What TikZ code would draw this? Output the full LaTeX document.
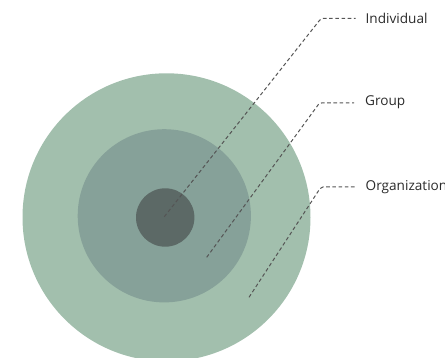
\documentclass[tikz,border=0pt]{standalone}
\usepackage{fontspec}
\setmainfont{Open Sans}
\definecolor{outerc}{HTML}{A2BFAD}
\definecolor{midc}{HTML}{86A199}
\definecolor{innerc}{HTML}{5C6966}
\definecolor{leadc}{HTML}{555555}
\definecolor{txtc}{HTML}{2A2A2A}
\tikzset{
  ring/.style={circle, inner sep=0pt, draw=none},
  lead/.style={draw=leadc, line width=1pt, dash pattern=on 3.6pt off 2.6pt, rounded corners=2pt},
  lbl/.style={anchor=west, inner sep=0pt, text=txtc, font=\fontsize{13.6}{15}\selectfont}
}
\begin{document}
\begin{tikzpicture}[x=1pt,y=-1pt]
\useasboundingbox (0,0) rectangle (445,358);
\node[ring, fill=outerc, minimum size=288pt] (outer) at (166.5,217.3) {};
\node[ring, fill=midc, minimum size=173.2pt] (mid) at (164.3,215.8) {};
\node[ring, fill=innerc, minimum size=58.4pt] (inner) at (165.2,217.5) {};
\node[lbl] (ind) at (365.5,18.5) {Individual};
\node[lbl] (grp) at (365,102.5) {Group};
\node[lbl] (org) at (365.5,187) {Organization};
\coordinate (s1) at (164.3,216.7);
\coordinate (c1) at (321,18.5);
\coordinate (e1) at (355.5,18.5);
\coordinate (s2) at (206.7,257.3);
\coordinate (c2) at (319.5,103);
\coordinate (e2) at (354,103);
\coordinate (s3) at (249,297.3);
\coordinate (c3) at (321,187);
\coordinate (e3) at (355,187);
\draw[lead] (s1) -- (c1) -- (e1);
\draw[lead] (s2) -- (c2) -- (e2);
\draw[lead] (s3) -- (c3) -- (e3);
\end{tikzpicture}
\end{document}
